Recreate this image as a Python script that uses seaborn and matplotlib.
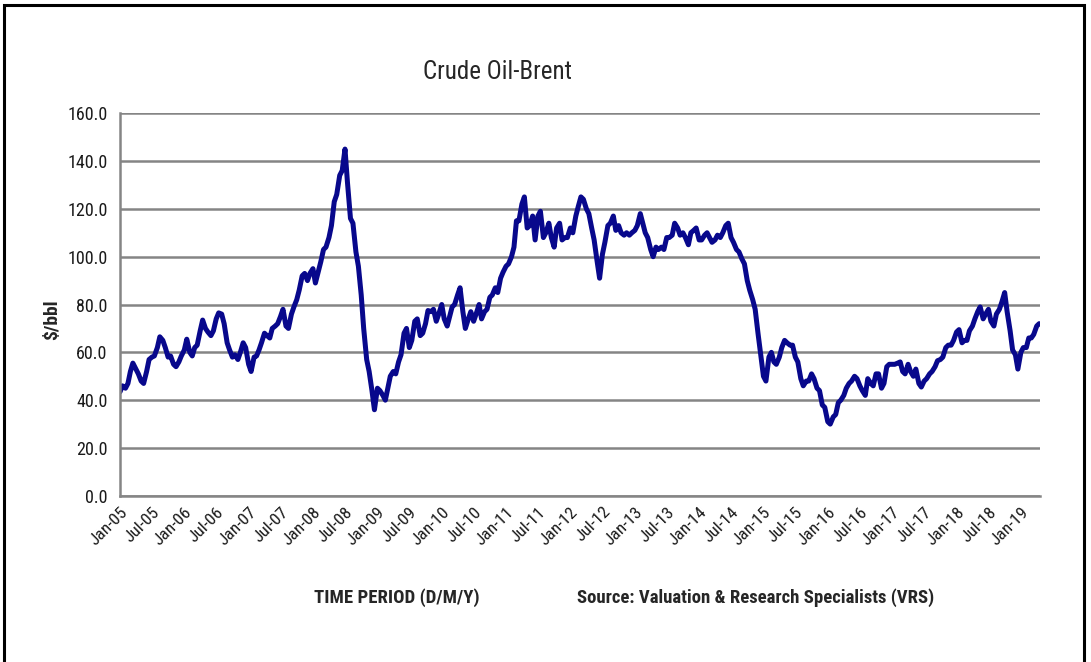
import pandas as pd
import matplotlib
matplotlib.use("Agg")
import matplotlib.pyplot as plt
from matplotlib import font_manager
from matplotlib.patches import Rectangle
import seaborn as sns

# Brent crude, $/bbl, two readings per month (1st and 15th)
brent_2005 = [43.5, 46, 45, 47, 52, 55.5, 53, 51, 48, 47, 52, 57,
              58, 58.5, 62, 66.5, 65, 62, 58, 58.5, 55, 54, 56, 58.5]
brent_2006 = [61, 65.5, 60, 58.5, 62, 63, 69, 73.5, 70, 68.5, 67, 69,
              74, 76.5, 76, 72, 64, 61, 58, 59, 57, 60, 64, 62]
brent_2007 = [55, 52, 58, 58.5, 61, 64, 68, 67, 66, 70, 71, 72,
              75, 78, 71, 70, 76, 79, 82, 86, 92, 93, 90, 93]
brent_2008 = [95, 89, 94, 98, 103, 104, 108, 113, 123, 126, 134, 136,
              145, 131, 116, 114, 102, 96, 84, 70, 57, 52, 44, 36]
brent_2009 = [45, 44, 42, 40, 45, 50, 52, 51, 56, 59, 68, 70,
              62, 65, 73, 74, 67, 68, 72, 77.5, 77, 78, 73, 76]
brent_2010 = [80, 74, 71, 75, 79, 80, 84, 87, 77, 70, 74, 77,
              73, 76, 80, 74, 77, 78, 83, 84, 87, 85, 91, 93.5]
brent_2011 = [96, 97, 100, 104, 115, 115, 122, 125, 112, 113, 117, 107,
              117, 119, 108, 110, 114, 108, 104, 112, 114, 107, 108, 108]
brent_2012 = [112, 110, 117, 121, 125, 124, 120, 118, 112, 107, 98, 91,
              101, 106, 113, 114, 117, 111, 113, 110, 109, 110, 109, 110]
brent_2013 = [111, 113, 118, 114, 110, 108, 103, 100, 104, 103, 104, 103,
              108, 108, 109, 114, 112, 109, 110, 108, 105, 110, 111, 112]
brent_2014 = [107, 107, 109, 110, 108, 106, 107, 109, 108, 110, 113, 114,
              108, 106, 103, 102, 99, 97, 90, 86, 82, 78, 68, 60]
brent_2015 = [50, 48, 58, 60, 56, 55, 58, 62, 65, 64, 63, 63,
              58, 56, 49, 46, 48, 48, 51, 49, 45, 44, 38, 37]
brent_2016 = [31, 30, 33, 34, 39, 40, 42, 45, 47, 48, 50, 49,
              46, 44, 42, 49, 47, 46, 51, 51, 45, 47, 54, 55]
brent_2017 = [55, 55, 55.5, 56, 52, 51, 55, 52, 50, 53, 47, 45.5,
              48, 49, 51, 52, 54, 56.5, 57, 58, 62, 63, 63, 65]
brent_2018 = [68.5, 69.5, 64, 65, 65, 69, 71, 74, 77, 79, 74, 76,
              78, 73, 71, 76, 78, 81, 85, 77, 69, 61, 59, 53]
brent_2019 = [60, 62, 62, 66, 66, 67.5, 71, 72]

prices = (brent_2005 + brent_2006 + brent_2007 + brent_2008 + brent_2009 +
          brent_2010 + brent_2011 + brent_2012 + brent_2013 + brent_2014 +
          brent_2015 + brent_2016 + brent_2017 + brent_2018 + brent_2019)
dates = pd.date_range("2005-01-01", periods=len(prices), freq="SMS")
df = pd.DataFrame({"date": dates, "price": prices})

tick_dates = pd.date_range("2005-01-01", "2019-01-01", freq="6MS")
tick_labels = [d.strftime("%b-%y") for d in tick_dates]
y_ticks = [0, 20, 40, 60, 80, 100, 120, 140, 160]

sns.set_style("white")
installed = {f.name for f in font_manager.fontManager.ttflist}
font = "Lato"
for cand in ["Liberation Sans Narrow", "Roboto Condensed", "Open Sans Condensed", "Arial Narrow"]:
    if cand in installed:
        font = cand
        break
plt.rcParams["font.family"] = [font, "DejaVu Sans"]

fig = plt.figure(figsize=(10.91, 6.62), dpi=100)
ax = fig.add_axes([0.110, 0.251, 0.843, 0.578])

sns.lineplot(data=df, x="date", y="price", ax=ax, color="#08088c", linewidth=3.6)

ax.set_ylim(0, 160)
ax.set_yticks(y_ticks)
ax.set_yticklabels([f"{v:.1f}" for v in y_ticks], fontsize=13, color="#1a1a1a")
ax.set_xlim(dates[0], dates[-1] + pd.Timedelta(days=3))
ax.set_xticks(tick_dates)
ax.set_xticklabels(tick_labels, rotation=45, ha="right", rotation_mode="anchor",
                   fontsize=12.5, color="#1a1a1a")
ax.grid(axis="y", color="#858585", linewidth=1.8)
ax.grid(axis="x", visible=False)
ax.set_axisbelow(True)
for side in ["top", "right"]:
    ax.spines[side].set_visible(False)
ax.spines["left"].set_color("#858585")
ax.spines["left"].set_linewidth(1.8)
ax.spines["bottom"].set_color("#858585")
ax.spines["bottom"].set_linewidth(1.8)
ax.tick_params(axis="y", length=4, width=1.8, color="#858585", pad=5)
ax.tick_params(axis="x", length=0, pad=6)

ax.set_xlabel("")
ax.set_ylabel("$/bbl", fontsize=14, fontweight="bold", labelpad=2)
ax.yaxis.set_label_coords(-0.064, 0.46)

fig.text(0.456, 0.891, "Crude Oil-Brent", ha="center", va="center", fontsize=18)
fig.text(0.288, 0.098, "TIME PERIOD (D/M/Y)", ha="left", va="center", fontsize=13.5,
         fontweight="bold")
fig.text(0.529, 0.098, "Source: Valuation & Research Specialists (VRS)", ha="left",
         va="center", fontsize=13.5, fontweight="bold")

fig.patches.append(Rectangle((4 / 1091, -0.1), 1080 / 1091, 1.1 - 5 / 662,
                             transform=fig.transFigure, fill=False,
                             edgecolor="black", linewidth=2.2, clip_on=False))

fig.savefig("out.png", dpi=100)
